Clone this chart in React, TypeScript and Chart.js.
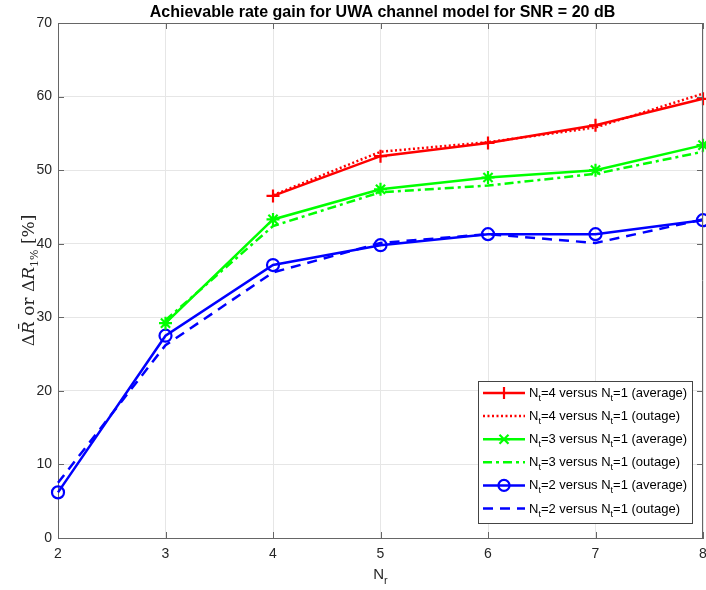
import React, { useEffect, useRef } from "react";
import { Chart, registerables } from "chart.js";
Chart.register(...registerables);

const nr = [2, 3, 4, 5, 6, 7, 8];
const nt4Avg = [null, null, 46.5, 51.9, 53.7, 56.1, 59.7];
const nt4Out = [null, null, 46.6, 52.5, 53.8, 55.8, 60.4];
const nt3Avg = [null, 29.2, 43.3, 47.4, 49.0, 50.0, 53.4];
const nt3Out = [null, 29.6, 42.4, 47.0, 47.9, 49.5, 52.5];
const nt2Avg = [6.2, 27.5, 37.1, 39.8, 41.3, 41.3, 43.2];
const nt2Out = [7.5, 26.2, 36.1, 40.1, 41.3, 40.1, 43.3];
const yTicks = [0, 10, 20, 30, 40, 50, 60, 70];
const legendLabels = [
  ["4", "average"],
  ["4", "outage"],
  ["3", "average"],
  ["3", "outage"],
  ["2", "average"],
  ["2", "outage"],
];
const titleText = "Achievable rate gain for UWA channel model for SNR = 20 dB";

const RED = "#ff0000";
const GREEN = "#00ff00";
const BLUE = "#0000ff";
const SANS = "'Liberation Sans', Arial, sans-serif";
const SERIF = "'DejaVu Serif', 'Liberation Serif', serif";
const AXIS = "#666";

function pts(arr: (number | null)[]) {
  return nr.map((x, i) => ({ x, y: arr[i] })).filter((p) => p.y !== null);
}

type Part = { t: string; font: string; dy?: number };

function drawParts(ctx: CanvasRenderingContext2D, parts: Part[], x: number, y: number) {
  let cx = x;
  for (const p of parts) {
    ctx.font = p.font;
    ctx.fillText(p.t, cx, y + (p.dy || 0));
    cx += ctx.measureText(p.t).width;
  }
  return cx - x;
}
function measureParts(ctx: CanvasRenderingContext2D, parts: Part[]) {
  let w = 0;
  for (const p of parts) {
    ctx.font = p.font;
    w += ctx.measureText(p.t).width;
  }
  return w;
}

const styles = [
  { color: RED, dash: [], marker: "cross" },
  { color: RED, dash: [2, 2.5], marker: null },
  { color: GREEN, dash: [], marker: "star" },
  { color: GREEN, dash: [9, 4, 3, 4], marker: null },
  { color: BLUE, dash: [], marker: "circle" },
  { color: BLUE, dash: [10, 7], marker: null },
];

const overlay = {
  id: "overlay",
  afterDraw(chart: any) {
    const ctx: CanvasRenderingContext2D = chart.ctx;
    const a = chart.chartArea;
    const xs = chart.scales.x;
    const ys = chart.scales.y;
    ctx.save();
    ctx.strokeStyle = AXIS;
    ctx.lineWidth = 1;
    ctx.setLineDash([]);
    ctx.beginPath();
    ctx.moveTo(a.left, a.top + 0.5);
    ctx.lineTo(a.right, a.top + 0.5);
    ctx.moveTo(a.right - 0.5, a.top);
    ctx.lineTo(a.right - 0.5, a.bottom);
    for (const v of nr) {
      const px = Math.round(xs.getPixelForValue(v)) + 0.5;
      ctx.moveTo(px, a.bottom);
      ctx.lineTo(px, a.bottom - 6);
      ctx.moveTo(px, a.top);
      ctx.lineTo(px, a.top + 6);
    }
    for (const v of yTicks) {
      const py = Math.round(ys.getPixelForValue(v)) + 0.5;
      ctx.moveTo(a.left, py);
      ctx.lineTo(a.left + 6, py);
      ctx.moveTo(a.right, py);
      ctx.lineTo(a.right - 6, py);
    }
    ctx.stroke();

    // title
    ctx.fillStyle = "#000";
    ctx.font = `bold 16px ${SANS}`;
    ctx.textAlign = "center";
    ctx.textBaseline = "middle";
    ctx.fillText(titleText, 382.5, 13);

    // x label
    ctx.textAlign = "left";
    ctx.textBaseline = "alphabetic";
    ctx.fillStyle = "#262626";
    const xl: Part[] = [
      { t: "N", font: `15px ${SANS}` },
      { t: "r", font: `11px ${SANS}`, dy: 5 },
    ];
    const xw = measureParts(ctx, xl);
    drawParts(ctx, xl, (a.left + a.right) / 2 - xw / 2, 579);

    // y label
    ctx.save();
    ctx.translate(29, (a.top + a.bottom) / 2);
    ctx.rotate(-Math.PI / 2);
    const yl: Part[] = [
      { t: "\u0394", font: `17px ${SERIF}` },
      { t: "R\u0304", font: `italic 17px ${SERIF}` },
      { t: " or \u0394", font: `17px ${SERIF}` },
      { t: "R", font: `italic 17px ${SERIF}` },
      { t: "1%", font: `11px ${SERIF}`, dy: 4 },
      { t: " [%]", font: `17px ${SERIF}` },
    ];
    const yw = measureParts(ctx, yl);
    drawParts(ctx, yl, -yw / 2, 5);
    ctx.restore();

    // legend
    const lx = 478, ly = 381, lw = 214, lh = 142;
    ctx.fillStyle = "#fff";
    ctx.fillRect(lx, ly, lw, lh);
    ctx.strokeStyle = "#444";
    ctx.lineWidth = 1;
    ctx.strokeRect(lx + 0.5, ly + 0.5, lw, lh);
    for (let i = 0; i < 6; i++) {
      const s = styles[i];
      const yy = 393 + i * 23.1;
      ctx.strokeStyle = s.color;
      ctx.lineWidth = 2.5;
      ctx.setLineDash(s.dash);
      ctx.beginPath();
      ctx.moveTo(483, yy);
      ctx.lineTo(525, yy);
      ctx.stroke();
      ctx.setLineDash([]);
      if (s.marker) {
        ctx.lineWidth = 2.2;
        ctx.beginPath();
        const mx = 504;
        if (s.marker === "cross") {
          ctx.moveTo(mx - 6, yy); ctx.lineTo(mx + 6, yy);
          ctx.moveTo(mx, yy - 6); ctx.lineTo(mx, yy + 6);
        } else if (s.marker === "star") {
          ctx.moveTo(mx - 6, yy); ctx.lineTo(mx + 6, yy);
          ctx.moveTo(mx - 4.5, yy - 4.5); ctx.lineTo(mx + 4.5, yy + 4.5);
          ctx.moveTo(mx - 4.5, yy + 4.5); ctx.lineTo(mx + 4.5, yy - 4.5);
        } else {
          ctx.arc(mx, yy, 5.5, 0, Math.PI * 2);
        }
        ctx.stroke();
      }
      ctx.fillStyle = "#000";
      const [n, kind] = legendLabels[i];
      const parts: Part[] = [
        { t: "N", font: `13px ${SANS}` },
        { t: "t", font: `9px ${SANS}`, dy: 4 },
        { t: `=${n} versus N`, font: `13px ${SANS}` },
        { t: "t", font: `9px ${SANS}`, dy: 4 },
        { t: `=1 (${kind})`, font: `13px ${SANS}` },
      ];
      drawParts(ctx, parts, 529, yy + 4);
    }
    ctx.restore();
  },
};

export default function App() {
  const ref = useRef<HTMLCanvasElement>(null);
  useEffect(() => {
    const mk = (label: string, data: (number | null)[], i: number) => {
      const s = styles[i];
      return {
        label,
        data: pts(data),
        borderColor: s.color,
        backgroundColor: "rgba(0,0,0,0)",
        borderWidth: 2.5,
        borderDash: s.dash,
        pointStyle: s.marker || "circle",
        pointRadius: s.marker ? (s.marker === "circle" ? 6 : 6.5) : 0,
        pointBorderWidth: 2.2,
        pointBorderColor: s.color,
        pointBackgroundColor: "rgba(0,0,0,0)",
        tension: 0,
        order: i,
        clip: false,
      };
    };
    const chart = new Chart(ref.current!, {
      type: "line",
      data: {
        datasets: [
          mk("Nt=4 versus Nt=1 (average)", nt4Avg, 0),
          mk("Nt=4 versus Nt=1 (outage)", nt4Out, 1),
          mk("Nt=3 versus Nt=1 (average)", nt3Avg, 2),
          mk("Nt=3 versus Nt=1 (outage)", nt3Out, 3),
          mk("Nt=2 versus Nt=1 (average)", nt2Avg, 4),
          mk("Nt=2 versus Nt=1 (outage)", nt2Out, 5),
        ] as any,
      },
      options: {
        animation: false,
        responsive: false,
        devicePixelRatio: 1,
        layout: { autoPadding: false, padding: { top: 23, right: 3, left: 0, bottom: 0 } },
        plugins: { legend: { display: false }, title: { display: false }, tooltip: { enabled: false } },
        scales: {
          x: {
            type: "linear",
            min: 2,
            max: 8,
            afterFit: (s: any) => {
              s.height = 52;
              s.paddingLeft = 0;
              s.paddingRight = 0;
            },
            afterBuildTicks: (s: any) => {
              s.ticks = nr.map((v) => ({ value: v }));
            },
            ticks: { color: "#262626", font: { family: SANS, size: 14 }, padding: 8, maxRotation: 0 },
            grid: { color: "#e6e6e6", drawTicks: false },
            border: { color: AXIS, width: 1 },
          },
          y: {
            type: "linear",
            min: 0,
            max: 70,
            afterFit: (s: any) => {
              s.width = 58;
              s.paddingTop = 0;
              s.paddingBottom = 0;
            },
            afterBuildTicks: (s: any) => {
              s.ticks = yTicks.map((v) => ({ value: v }));
            },
            ticks: { color: "#262626", font: { family: SANS, size: 14 }, padding: 6 },
            grid: { color: "#e6e6e6", drawTicks: false },
            border: { color: AXIS, width: 1 },
          },
        },
      } as any,
      plugins: [overlay],
    });
    return () => chart.destroy();
  }, []);
  return (
    <div style={{ position: "fixed", left: 0, top: 0, width: 706, height: 590, background: "#fff" }}>
      <canvas ref={ref} width={706} height={590} style={{ display: "block", width: 706, height: 590 }} />
    </div>
  );
}
